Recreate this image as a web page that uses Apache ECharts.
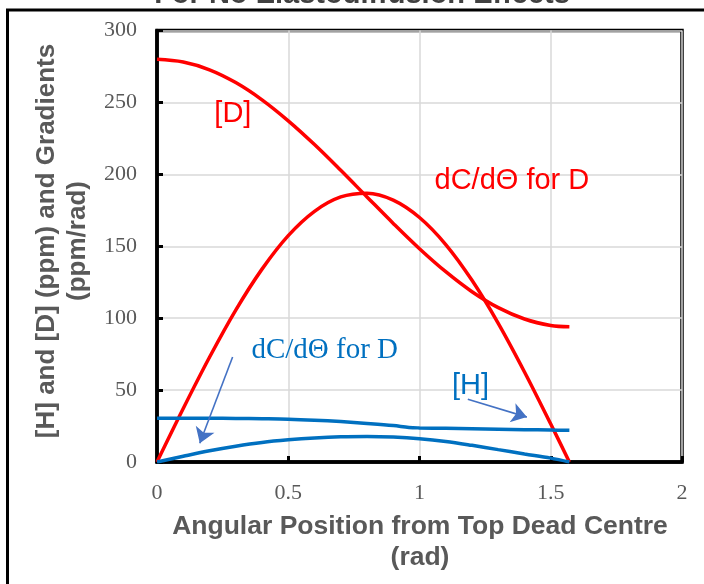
<!DOCTYPE html>
<html>
<head>
<meta charset="utf-8">
<script src="https://cdn.jsdelivr.net/npm/echarts@6/dist/echarts.min.js"></script>
<style>
  html, body { margin: 0; padding: 0; background: #fff; }
  #chart { width: 704px; height: 584px; }
</style>
</head>
<body>
<div id="chart"></div>
<script>
// Crank angle (rad) at which each profile was sampled
const theta = [0, 0.1, 0.2, 0.3, 0.4, 0.5, 0.6, 0.7, 0.8, 0.9, 1.0, 1.1, 1.2, 1.3, 1.4, 1.5, 1.571];
// Deuterium concentration [D] (ppm)
const dConc = [280, 278.1, 272.7, 263.8, 251.8, 237.2, 220.7, 202.8, 184.3, 165.9, 148.3, 132.3, 118.4, 107.3, 99.4, 94.9, 94.0];
// Gradient dC/dΘ for D (ppm/rad), large-scale profile
const dGrad = [0, 37.2, 72.8, 105.6, 134.1, 157.4, 174.3, 184.3, 186.9, 182.1, 170.0, 151.2, 126.3, 96.4, 62.6, 26.4, 0];
// Hydrogen concentration [H] (ppm)
const hTheta = [0, 0.1, 0.2, 0.3, 0.4, 0.5, 0.6, 0.7, 0.8, 0.9, 0.96, 1.0, 1.1, 1.2, 1.3, 1.4, 1.5, 1.571];
const hConc = [30.5, 30.5, 30.4, 30.3, 30.1, 29.8, 29.1, 28.1, 26.8, 25.3, 24.0, 23.7, 23.4, 23.1, 22.8, 22.5, 22.2, 22.0];
// Gradient dC/dΘ (ppm/rad), small-scale blue profile
const hGrad = [0, 4.0, 7.8, 11.0, 13.6, 15.4, 16.7, 17.5, 17.7, 17.3, 16.2, 14.3, 11.6, 8.6, 5.6, 2.7, 0];

// Axis ticks
const xTicks = [0, 0.5, 1, 1.5, 2];
const yTicks = [0, 50, 100, 150, 200, 250, 300];

// Callout labels and arrows, in data units
const noteText = ['[D]', 'dC/dΘ for D', 'dC/dΘ for D', '[H]'];
const noteTheta = [0.289, 1.352, 0.639, 1.194];
const noteValue = [242, 195.4, 77.4, 53];
const arrowFrom = [[0.288, 73], [1.184, 43.7]];
const arrowTo = [[0.163, 13], [1.409, 31.2]];

const RED = '#FF0000';
const BLUE = '#0070C0';
const GREY = '#595959';
const SERIF = '"Liberation Serif", "Times New Roman", serif';
const SANS = '"Liberation Sans", Arial, sans-serif';

const pairs = (xs, ys) => xs.map((x, i) => [x, ys[i]]);

const chart = echarts.init(document.getElementById('chart'), null, { renderer: 'canvas' });

const lineSeries = (data, color) => ({
  type: 'line',
  data: data,
  smooth: 0.35,
  showSymbol: false,
  symbol: 'none',
  lineStyle: { color: color, width: 3.5 },
  z: 3
});

chart.setOption({
  animation: false,
  backgroundColor: '#fff',
  grid: {
    left: 157, top: 30.5, right: 22, bottom: 122,
    show: true, borderColor: '#000', borderWidth: 3.5, backgroundColor: 'transparent'
  },
  xAxis: {
    type: 'value',
    min: xTicks[0], max: xTicks[xTicks.length - 1], interval: 0.5,
    axisLine: { show: true, onZero: false, lineStyle: { color: '#000', width: 3.5 } },
    axisTick: { show: true, inside: true, length: 6, lineStyle: { color: '#000', width: 3 } },
    splitLine: { show: true, lineStyle: { color: '#D9D9D9', width: 1.5 } },
    axisLabel: { color: GREY, fontFamily: SERIF, fontSize: 22, margin: 20 }
  },
  yAxis: {
    type: 'value',
    min: yTicks[0], max: yTicks[yTicks.length - 1], interval: 50,
    axisLine: { show: true, onZero: false, lineStyle: { color: '#000', width: 3.5 } },
    axisTick: { show: true, inside: true, length: 6, lineStyle: { color: '#000', width: 3 } },
    splitLine: { show: true, lineStyle: { color: '#D9D9D9', width: 1.5 } },
    axisLabel: { color: GREY, fontFamily: SERIF, fontSize: 22, margin: 20 }
  },
  series: [
    lineSeries(pairs(theta, dConc), RED),
    lineSeries(pairs(theta, dGrad), RED),
    lineSeries(pairs(hTheta, hConc), BLUE),
    lineSeries(pairs(theta, hGrad), BLUE),
    {
      type: 'lines',
      coordinateSystem: 'cartesian2d',
      symbol: ['none', 'arrow'],
      symbolSize: 15,
      lineStyle: { color: '#4472C4', width: 1.6, opacity: 1 },
      data: arrowFrom.map((p, i) => ({ coords: [p, arrowTo[i]] })),
      z: 4
    }
  ]
});

// Text callouts positioned through the grid's coordinate system
const noteStyle = [
  { fill: RED, font: '29px ' + SANS },
  { fill: RED, font: '29px ' + SANS },
  { fill: BLUE, font: '29px ' + SERIF },
  { fill: BLUE, font: '29px ' + SANS }
];
const notes = noteText.map((t, i) => {
  const p = chart.convertToPixel({ gridIndex: 0 }, [noteTheta[i], noteValue[i]]);
  return {
    type: 'text', x: p[0], y: p[1], z: 10,
    style: Object.assign({ text: t, align: 'center', verticalAlign: 'middle' }, noteStyle[i])
  };
});

chart.setOption({
  graphic: [
    {
      type: 'rect', z: 0, silent: true,
      shape: { x: 7.5, y: 10, width: 760, height: 640 },
      style: { fill: 'none', stroke: '#000', lineWidth: 3 }
    },
    {
      type: 'text', x: 362, y: -5, z: 10,
      style: { text: 'For No Elastodiffusion Effects', align: 'center', verticalAlign: 'middle',
               fill: '#404040', font: 'bold 29px ' + SANS }
    },
    {
      type: 'text', x: 420, y: 542, z: 10,
      style: { text: 'Angular Position from Top Dead Centre\n(rad)', align: 'center', verticalAlign: 'middle',
               fill: GREY, font: 'bold 26.5px ' + SANS, lineHeight: 31 }
    },
    {
      type: 'text', x: 62, y: 241, rotation: Math.PI / 2, z: 10,
      style: { text: '[H] and [D] (ppm) and Gradients\n(ppm/rad)', align: 'center', verticalAlign: 'middle',
               fill: GREY, font: 'bold 26px ' + SANS, lineHeight: 31 }
    }
  ].concat(notes)
});
</script>
</body>
</html>
